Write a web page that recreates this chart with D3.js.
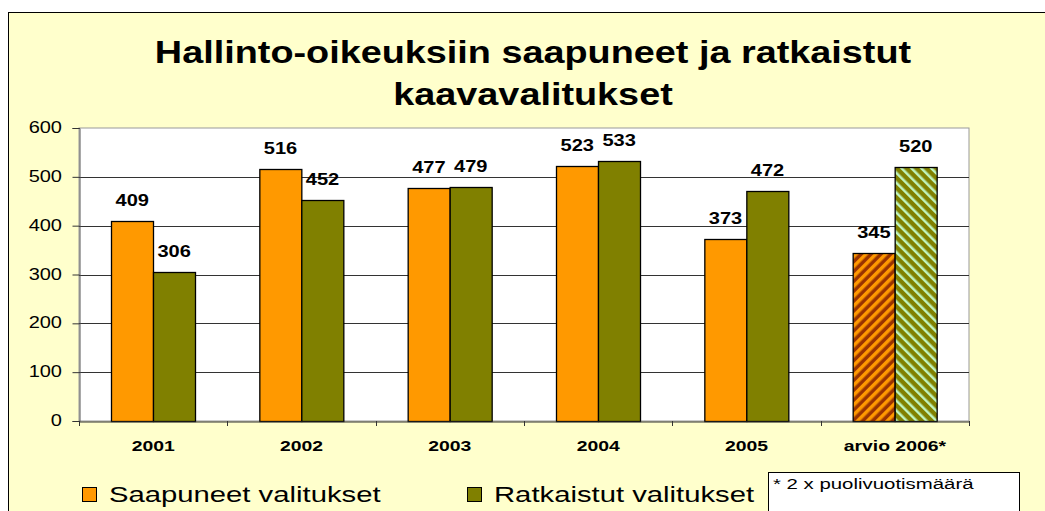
<!DOCTYPE html>
<html>
<head>
<meta charset="utf-8">
<script src="https://cdn.jsdelivr.net/npm/d3@7"></script>
<style>
  body { margin: 0; background: #fff; }
  svg { display: block; font-family: "Liberation Sans", Arial, sans-serif; }
</style>
</head>
<body>
<div id="chart"></div>
<script>
// chart data
var categories = ["2001", "2002", "2003", "2004", "2005", "arvio 2006*"];
var saapuneet = [409, 516, 477, 523, 373, 345];
var ratkaistut = [306, 452, 479, 533, 472, 520];
var estimated = [false, false, false, false, false, true];
var seriesNames = ["Saapuneet valitukset", "Ratkaistut valitukset"];
var yTicks = [0, 100, 200, 300, 400, 500, 600];
var titleLines = ["Hallinto-oikeuksiin saapuneet ja ratkaistut", "kaavavalitukset"];
var noteText = "* 2 x puolivuotismäärä";

var width = 1045, height = 511;
var plot = {left: 79, right: 969, top: 128, bottom: 421};

var svg = d3.select("#chart").append("svg")
  .attr("width", width)
  .attr("height", height);

// hatch patterns for the estimate bars
var defs = svg.append("defs");
function makeHatch(id, bg, fg, angle, size, stripe) {
  var p = defs.append("pattern")
    .attr("id", id)
    .attr("patternUnits", "userSpaceOnUse")
    .attr("width", size)
    .attr("height", size)
    .attr("patternTransform", "rotate(" + angle + ")");
  p.append("rect").attr("width", size).attr("height", size).attr("fill", bg);
  p.append("rect").attr("width", stripe).attr("height", size).attr("fill", fg);
}
makeHatch("hatchOrange", "#993300", "#FF9900", 45, 7, 3.5);
makeHatch("hatchGreen", "#808000", "#BFF5BF", -45, 7, 2.5);

var colors = ["#FF9900", "#808000"];
var hatches = ["url(#hatchOrange)", "url(#hatchGreen)"];

// text with a little horizontal stretch, like the original picture
function addText(g, str, x, y, size, weight, anchor, sx) {
  return g.append("text")
    .attr("transform", "translate(" + x + "," + y + ") scale(" + sx + ",1)")
    .attr("font-size", size)
    .attr("font-weight", weight)
    .attr("text-anchor", anchor)
    .attr("fill", "#000")
    .text(str);
}

// chart area background
svg.append("rect")
  .attr("x", 8.5).attr("y", 12.5)
  .attr("width", width).attr("height", height)
  .attr("fill", "#FFFFCC")
  .attr("stroke", "#000");

// title
titleLines.forEach(function(line, i) {
  addText(svg, line, 533, 63 + i * 42, 31, "bold", "middle", 1.22);
});

var x0 = d3.scaleBand()
  .domain(categories)
  .range([plot.left, plot.right]);

var x1 = d3.scaleBand()
  .domain([0, 1])
  .range([0, x0.bandwidth()])
  .paddingOuter(0.77);

var y = d3.scaleLinear()
  .domain([0, 600])
  .range([plot.bottom, plot.top]);

// plot area
svg.append("rect")
  .attr("x", plot.left).attr("y", plot.top)
  .attr("width", plot.right - plot.left)
  .attr("height", plot.bottom - plot.top)
  .attr("fill", "#fff")
  .attr("stroke", "#999");

// grid lines
svg.append("g")
  .selectAll("line")
  .data(yTicks.filter(function(d) { return d > 0 && d < 600; }))
  .enter().append("line")
  .attr("x1", plot.left).attr("x2", plot.right)
  .attr("y1", function(d) { return Math.round(y(d)) + 0.5; })
  .attr("y2", function(d) { return Math.round(y(d)) + 0.5; })
  .attr("stroke", "#333");

// y axis
var yAxis = svg.append("g")
  .attr("transform", "translate(" + (plot.left + 0.5) + ",0)")
  .call(d3.axisLeft(y).tickValues(yTicks).tickSize(7).tickFormat(""));
yAxis.select(".domain").attr("stroke", "#555");
yAxis.selectAll(".tick line").attr("stroke", "#333");
yTicks.forEach(function(t) {
  addText(svg, String(t), 62, y(t) + 5, 16, "normal", "end", 1.25);
});

// bars
var series = [saapuneet, ratkaistut];
var groups = svg.append("g").selectAll("g")
  .data(categories)
  .enter().append("g")
  .attr("transform", function(d) { return "translate(" + x0(d) + ",0)"; });

groups.each(function(cat, ci) {
  var g = d3.select(this);
  series.forEach(function(vals, si) {
    var v = vals[ci];
    g.append("rect")
      .attr("x", Math.round(x1(si)) + 0.5)
      .attr("y", Math.round(y(v)) + 0.5)
      .attr("width", Math.round(x1.bandwidth()))
      .attr("height", Math.round(y(0)) - Math.round(y(v)))
      .attr("fill", estimated[ci] ? hatches[si] : colors[si])
      .attr("stroke", "#000")
      .attr("stroke-width", 1.3);
  });
  series.forEach(function(vals, si) {
    var v = vals[ci];
    addText(g, String(v), x1(si) + x1.bandwidth() / 2, y(v) - 15, 17, "bold", "middle", 1.18);
  });
});

// x axis
var xAxis = svg.append("g")
  .attr("transform", "translate(0," + (plot.bottom + 0.5) + ")")
  .call(d3.axisBottom(x0).tickSize(0).tickFormat(""));
xAxis.select(".domain").attr("stroke", "#333");
var bounds = categories.map(function(c) { return x0(c); }).concat([plot.right]);
svg.append("g").selectAll("line")
  .data(bounds)
  .enter().append("line")
  .attr("x1", function(d) { return Math.round(d) + 0.5; })
  .attr("x2", function(d) { return Math.round(d) + 0.5; })
  .attr("y1", plot.bottom)
  .attr("y2", plot.bottom + 5)
  .attr("stroke", "#333");
categories.forEach(function(c) {
  addText(svg, c, x0(c) + x0.bandwidth() / 2, 451, 15.5, "bold", "middle", 1.25);
});

// legend
var legendX = [82, 467];
seriesNames.forEach(function(name, i) {
  svg.append("rect")
    .attr("x", legendX[i] + 0.5).attr("y", 487.5)
    .attr("width", 14).attr("height", 14)
    .attr("fill", colors[i])
    .attr("stroke", "#000");
  addText(svg, name, legendX[i] + 27, 502, 22, "normal", "start", 1.33);
});

// note box
svg.append("rect")
  .attr("x", 768.5).attr("y", 472.5)
  .attr("width", 251).attr("height", 60)
  .attr("fill", "#fff")
  .attr("stroke", "#000");
addText(svg, noteText, 773, 489, 15, "normal", "start", 1.36);
</script>
</body>
</html>
